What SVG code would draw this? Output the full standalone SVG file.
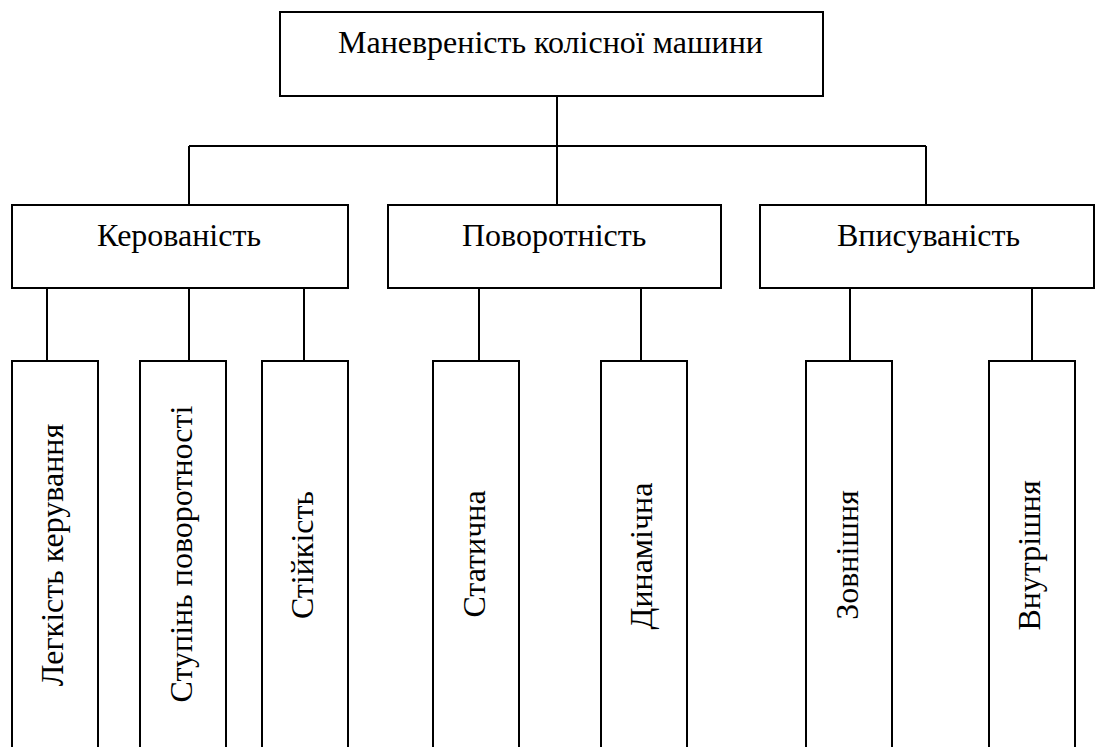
<svg xmlns="http://www.w3.org/2000/svg" width="1096" height="747" viewBox="0 0 1096 747">
<style>
.box{fill:#fff;stroke:#000;stroke-width:2}
.ln{fill:none;stroke:#000;stroke-width:2}
.t{font-family:"Liberation Serif","Times New Roman",serif;font-size:32px;fill:#000}
.v{text-anchor:middle}
</style>
<rect width="1096" height="747" fill="#fff"/>
<g id="connectors">
<path class="ln" d="M557 96V146M189 146H926M189 146V205M557 146V205M926 146V205"/>
<path class="ln" d="M47 288V361M189 288V361M304 288V361"/>
<path class="ln" d="M479 288V361M641 288V361"/>
<path class="ln" d="M850 288V361M1032 288V361"/>
</g>
<g id="root"><rect class="box" x="280" y="12" width="543" height="84"/><text class="t" x="338" y="53">Маневреність колісної машини</text></g>
<g id="keravanist"><rect class="box" x="12" y="205" width="336" height="83"/><text class="t" x="97" y="246">Керованість</text></g>
<g id="povorotnist"><rect class="box" x="388" y="205" width="333" height="83"/><text class="t" x="462" y="246">Поворотність</text></g>
<g id="vpysuvanist"><rect class="box" x="760" y="205" width="334" height="83"/><text class="t" x="837" y="246">Вписуваність</text></g>
<g id="lehkist"><rect class="box" x="12" y="361" width="86" height="400"/><text class="t v" transform="translate(63,555) rotate(-90)">Легкість керування</text></g>
<g id="stupin"><rect class="box" x="140" y="361" width="86" height="400"/><text class="t v" transform="translate(191.5,554) rotate(-90)">Ступінь поворотності</text></g>
<g id="stiikist"><rect class="box" x="262" y="361" width="86" height="400"/><text class="t v" transform="translate(313,555) rotate(-90)">Стійкість</text></g>
<g id="statychna"><rect class="box" x="433" y="361" width="86" height="400"/><text class="t v" transform="translate(485,554) rotate(-90)">Статична</text></g>
<g id="dynamichna"><rect class="box" x="601" y="361" width="86" height="400"/><text class="t v" transform="translate(651.5,556) rotate(-90)">Динамічна</text></g>
<g id="zovnishnia"><rect class="box" x="806" y="361" width="86" height="400"/><text class="t v" transform="translate(858,555) rotate(-90)">Зовнішня</text></g>
<g id="vnutrishnia"><rect class="box" x="989" y="361" width="86" height="400"/><text class="t v" transform="translate(1040,555.5) rotate(-90)">Внутрішня</text></g>
</svg>
